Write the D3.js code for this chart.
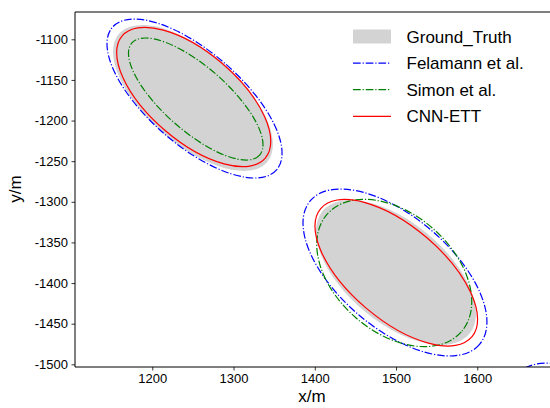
<!DOCTYPE html>
<html>
<head>
<meta charset="utf-8">
<script src="https://cdn.jsdelivr.net/npm/d3@7.9.0/dist/d3.min.js"></script>
<style>
  body { margin: 0; background: #fff; }
  svg { font-family: "Liberation Sans", Arial, sans-serif; }
</style>
</head>
<body>
<svg id="chart" width="550" height="408"></svg>
<script>
// ellipses: centre (x, y), semi axes (a, b) in metres, tilt in degrees
const groundTruth = [
  { cx: 1250.1, cy: -1172.2, a: 120.6, b: 56.6, angle: -40.9 },
  { cx: 1499.9, cy: -1387.0, a: 117.8, b: 61.5, angle: -40.0 }
];
const felamann = [
  { cx: 1252.0, cy: -1172.9, a: 133.8, b: 57.2, angle: -41.0 },
  { cx: 1498.7, cy: -1387.0, a: 136.6, b: 68.6, angle: -40.35 },
  { cx: 1752.3, cy: -1601.3, a: 136.6, b: 68.6, angle: -40.35 }
];
const simon = [
  { cx: 1253.5, cy: -1173.5, a: 104.6, b: 39.4, angle: -41.3 },
  { cx: 1497.8, cy: -1387.6, a: 109.8, b: 72.6, angle: -41.3 }
];
const cnnEtt = [
  { cx: 1251.0, cy: -1171.0, a: 115.8, b: 54.2, angle: -40.5 },
  { cx: 1500.3, cy: -1387.3, a: 122.0, b: 57.2, angle: -40.35 }
];

const xTicks = [1200, 1300, 1400, 1500, 1600];
const yTicks = [-1100, -1150, -1200, -1250, -1300, -1350, -1400, -1450, -1500];
const legendNames = ['Ground_Truth', 'Felamann et al.', 'Simon et al.', 'CNN-ETT'];

const svg = d3.select('#chart');
const m = { left: 75, right: 550, top: 12, bottom: 367 };

const x = d3.scaleLinear().domain([1104.9, 1689.5]).range([m.left, m.right]);
const y = d3.scaleLinear().domain([-1503.3, -1066.4]).range([m.bottom, m.top]);

const lw = 1.2;
const dashDot = [6.4, 1.6, 1, 1.6].map(d => d * lw).join(',');

const series = [
  { data: groundTruth, fill: '#d3d3d3', stroke: 'none', dash: null },
  { data: felamann, fill: 'none', stroke: '#0000ff', dash: dashDot },
  { data: simon, fill: 'none', stroke: '#008000', dash: dashDot },
  { data: cnnEtt, fill: 'none', stroke: '#ff0000', dash: null }
];

svg.append('clipPath').attr('id', 'plot-clip')
  .append('rect')
  .attr('x', m.left).attr('y', m.top)
  .attr('width', m.right - m.left).attr('height', m.bottom - m.top);

const plot = svg.append('g').attr('clip-path', 'url(#plot-clip)');

series.forEach(s => {
  plot.append('g')
    .selectAll('ellipse')
    .data(s.data)
    .join('ellipse')
    .attr('cx', 0).attr('cy', 0)
    .attr('rx', d => x(d.cx + d.a) - x(d.cx))
    .attr('ry', d => x(d.cx + d.b) - x(d.cx))
    .attr('transform', d => `translate(${x(d.cx)},${y(d.cy)}) rotate(${-d.angle})`)
    .attr('fill', s.fill)
    .attr('stroke', s.stroke)
    .attr('stroke-width', lw)
    .attr('stroke-dasharray', s.dash);
});

// axes
const xAxis = svg.append('g')
  .attr('transform', `translate(0,${m.bottom})`)
  .call(d3.axisBottom(x).tickValues(xTicks).tickSize(3.5).tickPadding(3.5).tickFormat(d3.format('d')));
const yAxis = svg.append('g')
  .attr('transform', `translate(${m.left},0)`)
  .call(d3.axisLeft(y).tickValues(yTicks).tickSize(3.5).tickPadding(3.5).tickFormat(d => d));

[xAxis, yAxis].forEach(g => {
  g.select('.domain').remove();
  g.selectAll('text').attr('font-size', 13).attr('fill', '#000')
    .attr('font-family', '"Liberation Sans", Arial, sans-serif');
  g.selectAll('line').attr('stroke', '#000').attr('stroke-width', 0.8);
});
yAxis.selectAll('text').text(d => d < 0 ? '-' + Math.abs(d) : d);

// spines: left, bottom, top (the right edge is cut off)
svg.append('path')
  .attr('d', `M${m.right},${m.top}H${m.left}V${m.bottom}H${m.right}`)
  .attr('fill', 'none').attr('stroke', '#000').attr('stroke-width', 1);

svg.append('text')
  .attr('x', 312).attr('y', 402)
  .attr('text-anchor', 'middle').attr('font-size', 17)
  .text('x/m');
svg.append('text')
  .attr('transform', 'translate(21,189) rotate(-90)')
  .attr('text-anchor', 'middle').attr('font-size', 17)
  .text('y/m');

// legend
const legend = svg.append('g');
legendNames.forEach((name, i) => {
  const cy = 36.5 + i * 26.6;
  const s = series[i];
  if (i === 0) {
    legend.append('rect')
      .attr('x', 353).attr('y', cy - 7).attr('width', 38).attr('height', 14)
      .attr('fill', s.fill);
  } else {
    legend.append('line')
      .attr('x1', 353).attr('x2', 391).attr('y1', cy).attr('y2', cy)
      .attr('stroke', s.stroke).attr('stroke-width', lw)
      .attr('stroke-dasharray', s.dash);
  }
  legend.append('text')
    .attr('x', 406.5).attr('y', cy + 6)
    .attr('font-size', 17)
    .text(name);
});
</script>
</body>
</html>
